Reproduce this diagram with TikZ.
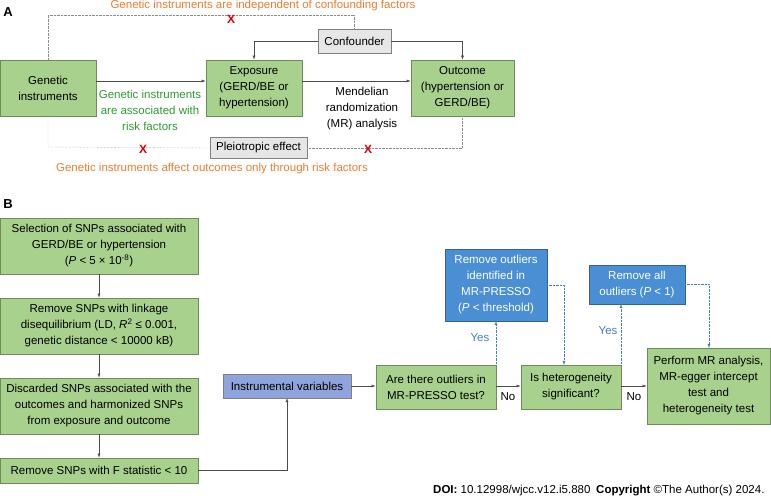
\documentclass[tikz,border=0pt]{standalone}
\usepackage{fontspec}
\setmainfont{Liberation Sans}
\usetikzlibrary{arrows.meta}
\definecolor{gfill}{HTML}{A9D18E}
\definecolor{gdraw}{HTML}{6E8B5A}
\definecolor{bfill}{HTML}{4A8FD4}
\definecolor{ivfill}{HTML}{8FA3DC}
\definecolor{orng}{HTML}{ED7D31}
\definecolor{gtxt}{HTML}{2E9A2E}
\definecolor{btxt}{HTML}{4A7EBB}
\definecolor{gry}{HTML}{E6E6E6}
\begin{document}
\begin{tikzpicture}[x=1pt,y=-1pt,font=\fontsize{11.5}{16}\selectfont,
 box/.style={draw=gdraw,fill=gfill,thick,align=center,inner sep=0pt},
 bbox/.style={draw=bfill!70!black,fill=bfill,text=white,align=center,inner sep=0pt},
 gbox/.style={draw=gray,fill=gry,thick,align=center,inner sep=0pt},
 arr/.style={-{Latex[length=4pt,width=3pt]},draw=black!70},
 dl/.style={draw=black!45,densely dotted},
 bdl/.style={draw=btxt,densely dotted,-{Latex[length=4pt,width=3pt]}},
 ox/.style={text=red!85!black,font=\bfseries\fontsize{12}{12}\selectfont}]
\useasboundingbox (0,0) rectangle (771,502);
% ---- A
\node[font=\bfseries\fontsize{13}{13}\selectfont] (la) at (8,12) {A};
\node[gbox,minimum width=73,minimum height=24] (conf) at (354.5,41) {Confounder};
\node[box,minimum width=96,minimum height=56] (gen) at (48,88) {Genetic\\instruments};
\node[box,minimum width=96,minimum height=56] (exp) at (254,88) {Exposure\\(GERD/BE or\\hypertension)};
\node[box,minimum width=103,minimum height=56] (out) at (462.5,88) {Outcome\\(hypertension or\\GERD/BE)};
\node[gbox,minimum width=97,minimum height=21] (pl) at (258.5,148) {Pleiotropic effect};
\node[text=orng] (t1) at (263,6) {Genetic instruments are independent of confounding factors};
\node[text=orng] (t2) at (212,169) {Genetic instruments affect outcomes only through risk factors};
\node[text=gtxt,align=center] (t3) at (150,110) {Genetic instruments\\are associated with\\risk factors};
\node[align=center] (t4) at (362,109) {Mendelian\\randomization\\(MR) analysis};
\draw[arr] (gen.east|-0,81) -- (exp.west|-0,81);
\draw[arr] (exp.east|-0,81) -- (out.west|-0,81);
\draw[arr] (conf.west) -| (exp.north);
\draw[arr] (conf.east) -| (out.north);
\coordinate (c1) at (48,15);
\coordinate (c2) at (48,147);
\draw[dl] (gen.north) -- (c1) -| (conf.north);
\draw[dl] (gen.south) -- (c2) -- (pl.west);
\draw[dl] (pl.east) -| (out.south);
\node[ox] (x1) at (231,19) {X};
\node[ox] (x2) at (143,149) {X};
\node[ox] (x3) at (368,149) {X};
% ---- B
\node[font=\bfseries\fontsize{13}{13}\selectfont] (lb) at (8,204) {B};
\node[box,minimum width=198,minimum height=56] (b1) at (99,246) {Selection of SNPs associated with\\GERD/BE or hypertension\\(\textit{P} < 5 × 10\textsuperscript{-8})};
\node[box,minimum width=198,minimum height=56] (b2) at (99,326) {Remove SNPs with linkage\\disequilibrium (LD, \textit{R}\textsuperscript{2} ≤ 0.001,\\genetic distance < 10000 kB)};
\node[box,minimum width=198,minimum height=56] (b3) at (99,406) {Discarded SNPs associated with the\\outcomes and harmonized SNPs\\from exposure and outcome};
\node[box,minimum width=198,minimum height=25] (b4) at (99,470.5) {Remove SNPs with F statistic < 10};
\node[draw=black!50,fill=ivfill,minimum width=128,minimum height=24,inner sep=0pt] (iv) at (287,386) {Instrumental variables};
\node[box,minimum width=120,minimum height=44] (q1) at (436,387) {Are there outliers in\\MR-PRESSO test?};
\node[box,minimum width=100,minimum height=44] (q2) at (571,387) {Is heterogeneity\\significant?};
\node[box,minimum width=123,minimum height=76] (pf) at (708.5,386) {Perform MR analysis,\\MR-egger intercept\\test and\\heterogeneity test};
\node[bbox,minimum width=102,minimum height=72] (r1) at (496,285) {Remove outliers\\identified in\\MR-PRESSO\\(\textit{P} < threshold)};
\node[bbox,minimum width=96,minimum height=39] (r2) at (637,284.5) {Remove all\\outliers (\textit{P} < 1)};
\draw[arr] (b1) -- (b2);
\draw[arr] (b2) -- (b3);
\draw[arr] (b3) -- (b4);
\draw[arr] (b4.east) -| (iv.south);
\draw[arr] (iv.east) -- (iv.east-|q1.west);
\draw[arr] (q1.east|-0,386) -- (q2.west|-0,386);
\draw[arr] (q2.east|-0,386) -- (pf.west|-0,386);
\node (n1) at (508,397) {No};
\node (n2) at (634,397) {No};
\coordinate (y1) at (496,365);
\coordinate (y2) at (621,365);
\draw[bdl] (y1) -- (y1|-r1.south);
\draw[bdl] (y2) -- (y2|-r2.south);
\node[text=btxt] (ya) at (480,338) {Yes};
\node[text=btxt] (yb) at (608,331) {Yes};
\draw[bdl] (r1.east) -| (564,365);
\draw[bdl] (r2.east) -| (709,348);
\node[anchor=east] (doi) at (768,491) {\textbf{DOI:} 10.12998/wjcc.v12.i5.880\enspace\textbf{Copyright} ©The Author(s) 2024.};
\end{tikzpicture}
\end{document}
